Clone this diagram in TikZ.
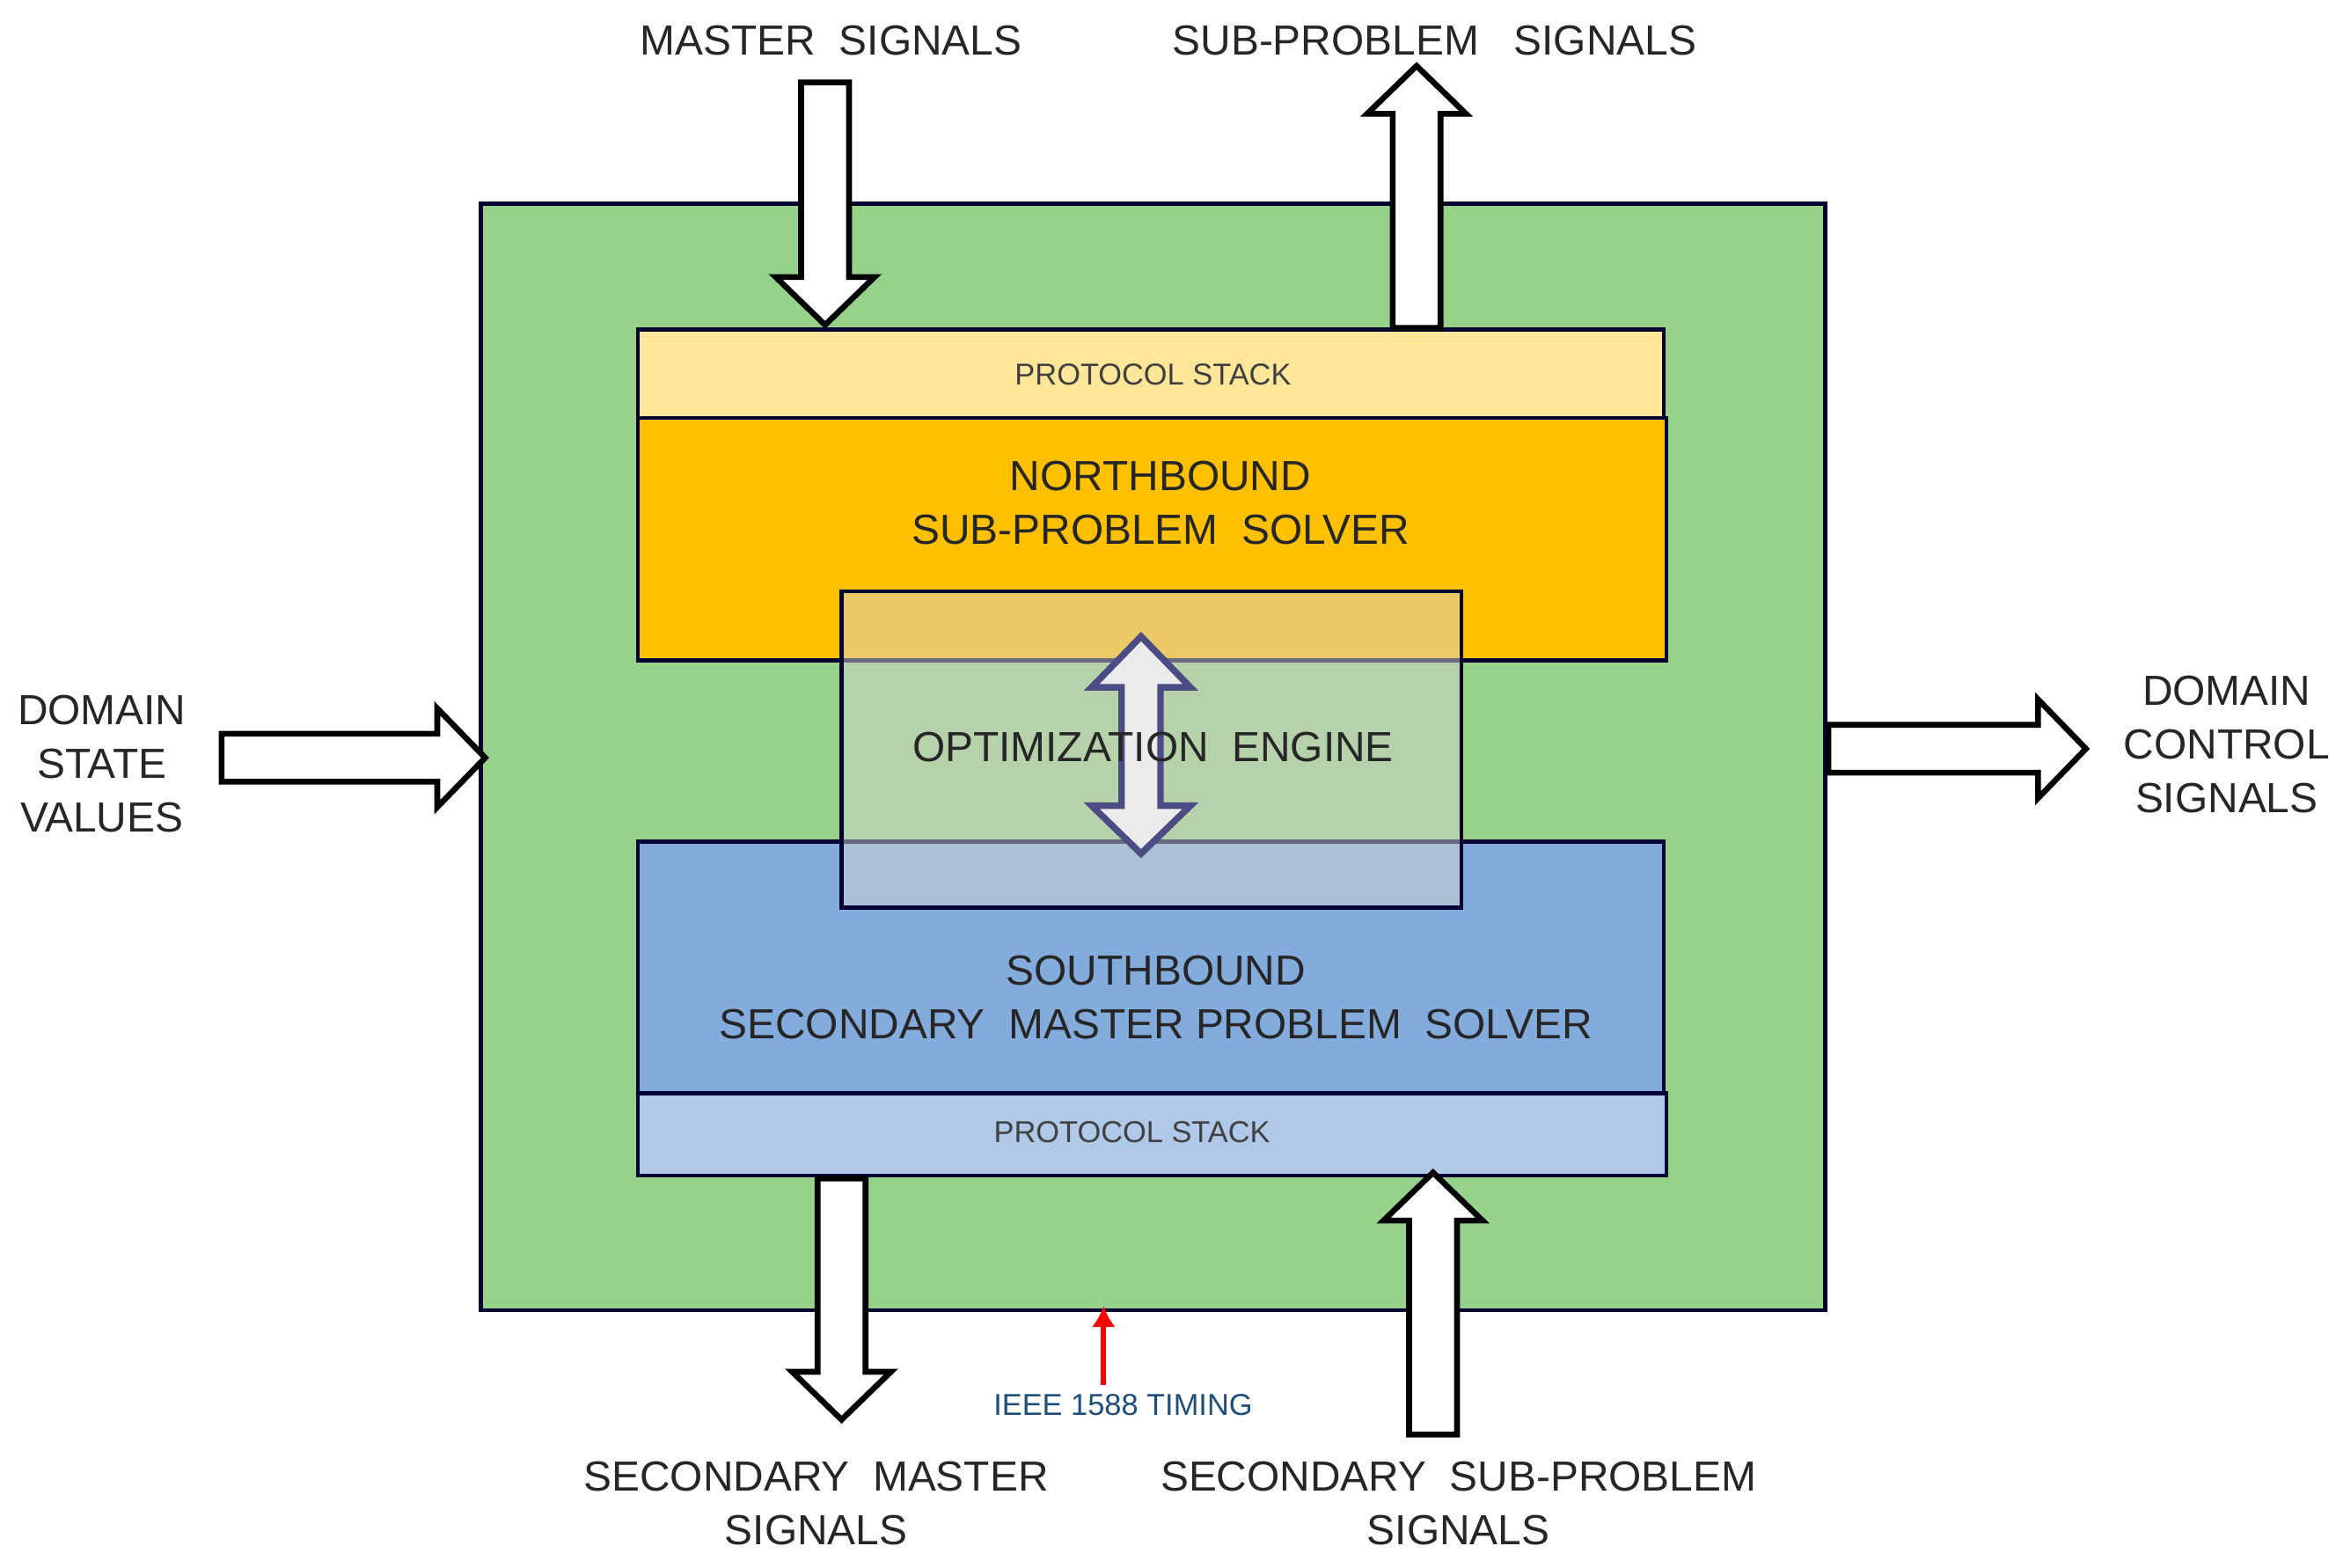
\documentclass[tikz,border=0pt]{standalone}
\usepackage{fontspec}
\setmainfont{Liberation Sans}
\usetikzlibrary{arrows.meta}
\newcommand{\fatarrow}[4]{% base x, base y, angle, length
  \draw[fat arrow,shift={(#1,#2)},rotate=#3]
    (0,-16) -- (#4-32,-16) -- (#4-32,-33) -- (#4,0) -- (#4-32,33) -- (#4-32,16) -- (0,16) -- cycle;}
\begin{document}
\begin{tikzpicture}
	[x=0.02cm,y=-0.02cm,line join=miter,
	% Styles
	box/.style={draw=black!80!blue,line width=1.5pt,inner sep=0pt},
	label text/.style={font=\fontsize{16}{20.5}\selectfont,align=center,text=black!85},
	small text/.style={font=\fontsize{11.5}{14}\selectfont,text=black!75},
	fat arrow/.style={draw=black,line width=2.2pt,fill=white}]
	
	% Colors
	\definecolor{framegreen}{HTML}{96D28A}
	\definecolor{stackyellow}{HTML}{FFE699}
	\definecolor{northorange}{HTML}{FFC000}
	\definecolor{southblue}{HTML}{83ACDC}
	\definecolor{stackblue}{HTML}{B0C9E8}
	\definecolor{timingblue}{HTML}{1F4E79}
	
	\useasboundingbox (0,0) rectangle (1560,1047);
	
	% The graphic
	\draw[box,fill=framegreen] (321,136) rectangle (1219,875);
	\draw[box,fill=northorange] (426,279) rectangle (1113,441);
	\draw[box,fill=stackyellow] (426,220) rectangle (1111,279);
	\draw[box,fill=southblue] (426,562) rectangle (1111,730);
	\draw[box,fill=stackblue] (426,730) rectangle (1113,785);
	
	\node[small text] (topstack) at (770,250) {PROTOCOL STACK};
	\node[small text] (botstack) at (756,756) {PROTOCOL STACK};
	\node[label text] (north) at (775,336) {NORTHBOUND\\SUB-PROBLEM\ \ SOLVER};
	\node[label text] (south) at (772,666) {SOUTHBOUND\\SECONDARY\ \ MASTER\ PROBLEM\ \ SOLVER};
	
	% engine overlay
	\fill[fill={rgb,255:red,215;green,210;blue,205},fill opacity=0.5] (562,395) rectangle (976,606);
	\draw[box] (562,395) rectangle (976,606);
	\draw[draw=black!45!blue!40!gray,line width=2.5pt,fill=black!8]
		(762,425) -- (795,459) -- (775,459) -- (775,538) -- (795,538) -- (762,570)
		-- (729,538) -- (749,538) -- (749,459) -- (729,459) -- cycle;
	\node[label text] (engine) at (770,499) {OPTIMIZATION\ \ ENGINE};
	
	% signal arrows
	\fatarrow{551}{55}{-90}{162}
	\fatarrow{946}{219}{90}{175}
	\fatarrow{148}{506}{0}{176}
	\fatarrow{1221}{500}{0}{172}
	\fatarrow{562}{787}{-90}{161}
	\fatarrow{957}{958}{90}{175}
	
	\node[label text] (master) at (555,27) {MASTER\ \ SIGNALS};
	\node[label text] (subprob) at (958,27) {SUB-PROBLEM\ \ \ SIGNALS};
	\node[label text] (state) at (68,510) {DOMAIN\\STATE\\VALUES};
	\node[label text] (control) at (1487,497) {DOMAIN\\CONTROL\\SIGNALS};
	\node[label text] (secmaster) at (545,1004) {SECONDARY\ \ MASTER\\SIGNALS};
	\node[label text] (secsub) at (974,1004) {SECONDARY\ \ SUB-PROBLEM\\SIGNALS};
	
	% timing
	\node[small text,text=timingblue] (timing) at (750,938) {IEEE\ 1588\ TIMING};
	\coordinate (frame bottom) at (737,872);
	\coordinate (timing top) at (737,925);
	\draw[red,line width=2pt,-{Latex[length=8pt,width=9pt]}] (timing top) -- (frame bottom);
\end{tikzpicture}
\end{document}
